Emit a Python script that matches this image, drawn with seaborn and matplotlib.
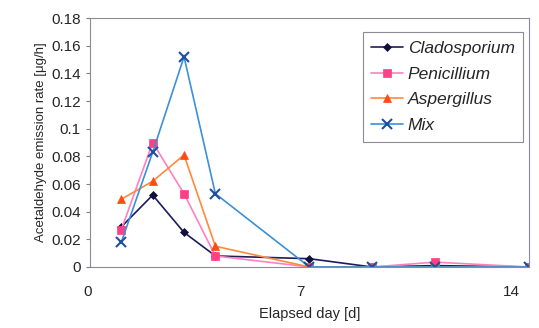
import numpy as np
import pandas as pd
import matplotlib
matplotlib.use("Agg")
import matplotlib.pyplot as plt
import matplotlib.transforms as mtransforms
import seaborn as sns

# Valeurs
days = [1, 2, 3, 4, 7, 9, 11, 14]
cladosporium = [0.029, 0.052, 0.025, 0.008, 0.006, 0.0, 0.001, 0.0]
penicillium = [0.027, 0.090, 0.053, 0.008, 0.0, 0.0, 0.0035, 0.0]
aspergillus = [0.049, 0.062, 0.081, 0.015, 0.0, 0.0, 0.0, 0.0]
mix = [0.018, 0.083, 0.152, 0.053, 0.0, 0.0, 0.0, 0.0]
x_ticks = [0, 7, 14]
y_ticklabels = ["0", "0.02", "0.04", "0.06", "0.08", "0.1", "0.12", "0.14", "0.16", "0.18"]

series = {
    "Cladosporium": cladosporium,
    "Penicillium": penicillium,
    "Aspergillus": aspergillus,
    "Mix": mix,
}

df = pd.DataFrame(
    [(d, name, v) for name, vals in series.items() for d, v in zip(days, vals)],
    columns=["day", "species", "rate"],
)

sns.set_style("white")
plt.rcParams["font.family"] = ["Liberation Sans", "DejaVu Sans"]

line_colors = {"Cladosporium": "#1c1c5c", "Penicillium": "#ff80c0",
               "Aspergillus": "#ff8a3a", "Mix": "#3d8fd8"}
marker_colors = {"Cladosporium": "#10103a", "Penicillium": "#ff3f86",
                 "Aspergillus": "#ff4a10", "Mix": "#1f4fa0"}
markers = {"Cladosporium": "D", "Penicillium": "s", "Aspergillus": "^", "Mix": "x"}
msizes = {"Cladosporium": 4.5, "Penicillium": 5.5, "Aspergillus": 6, "Mix": 7}

fig = plt.figure(figsize=(5.39, 3.28), dpi=100)
ax = fig.add_axes([0.167, 0.186, 0.814, 0.759])

for name in series:
    sub = df[df["species"] == name]
    sns.lineplot(
        data=sub, x="day", y="rate", ax=ax, color=line_colors[name],
        marker=markers[name], markersize=msizes[name],
        markerfacecolor=marker_colors[name], markeredgecolor=marker_colors[name],
        markeredgewidth=1.5 if name == "Mix" else 0.5,
        linewidth=1.2, label=name,
    )

ax.set_xlim(0, 14)
ax.set_ylim(0, 0.18)
ax.set_xticks(x_ticks)
ax.set_yticks(np.arange(0, 0.181, 0.02))
ax.set_yticklabels(y_ticklabels)
ax.tick_params(axis="both", labelsize=11, length=3, direction="out", color="#808080")
ax.tick_params(axis="y", left=True)
ax.tick_params(axis="x", bottom=False, pad=10)
ax.set_xlabel("Elapsed day [d]", fontsize=10.5, labelpad=6)
ax.set_ylabel("Acetaldehyde emission rate [μg/h]", fontsize=9.5, labelpad=3)

# les étiquettes x de l'original sont un peu décalées vers la gauche
for lab, dx in zip(ax.get_xticklabels(), [-2, -9, -17]):
    lab.set_transform(lab.get_transform() + mtransforms.ScaledTranslation(dx / 100, 0, fig.dpi_scale_trans))

for sp in ax.spines.values():
    sp.set_color("#8a8a9a")
    sp.set_linewidth(0.8)

leg = ax.legend(loc="upper right", bbox_to_anchor=(0.988, 0.942),
                prop={"style": "italic", "size": 12.5}, frameon=True, fancybox=False,
                handlelength=1.8, borderpad=0.5, labelspacing=0.6, handletextpad=0.3,
                borderaxespad=0.0)
leg.get_frame().set_edgecolor("#707080")
leg.get_frame().set_linewidth(0.8)

fig.savefig("out.png", dpi=100)
